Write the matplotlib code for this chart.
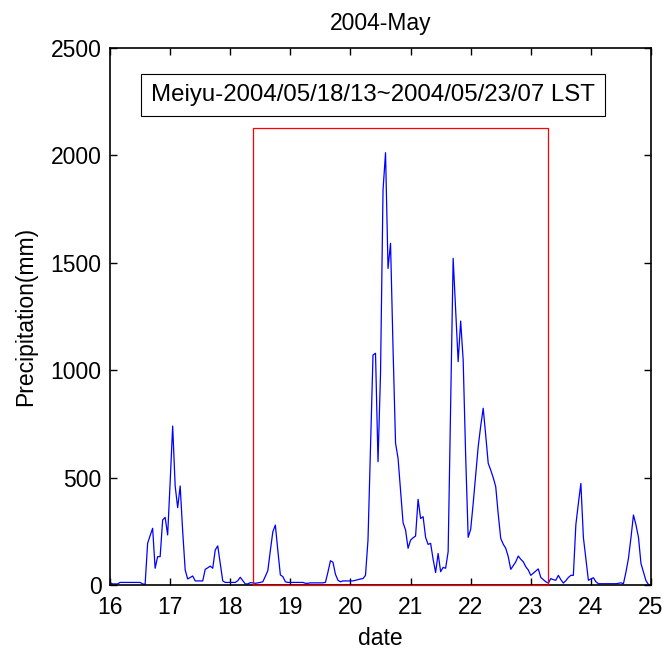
import numpy as np
import matplotlib
matplotlib.use("Agg")
import matplotlib.pyplot as plt
from matplotlib.patches import Rectangle

plt.rcParams['font.family'] = ['Liberation Sans', 'DejaVu Sans']

# hourly precipitation (mm), starting 2004/05/16 00 LST
start_day = 16
precip = [
    12, 5, 5, 5, 12, 12, 12, 12, 12, 12, 12, 12, 12, 5, 3, 194, 230, 264, 78, 132, 132, 303, 315, 233,        # 16
    480, 740, 461, 360, 461, 250, 70, 28, 35, 42, 19, 19, 19, 19, 73, 80, 88, 78, 163, 182, 100, 19, 12, 12,   # 17
    12, 12, 12, 20, 36, 20, 5, 5, 11, 10, 8, 10, 12, 15, 40, 67, 160, 248, 279, 160, 47, 39, 15, 12,           # 18
    12, 12, 12, 12, 12, 12, 8, 8, 10, 10, 10, 10, 10, 10, 12, 60, 113, 106, 50, 22, 15, 19, 19, 19,            # 19
    19, 19, 22, 25, 28, 30, 45, 210, 640, 1071, 1079, 574, 986, 1839, 2013, 1474, 1591, 1100, 660, 590, 440, 290, 256, 171,  # 20
    209, 220, 228, 399, 310, 318, 222, 189, 194, 120, 58, 147, 62, 82, 78, 155, 840, 1521, 1280, 1040, 1229, 1047, 600, 222, # 21
    259, 380, 510, 644, 740, 823, 698, 567, 535, 500, 458, 330, 217, 190, 171, 132, 73, 90, 108, 135, 120, 108, 85, 70,     # 22
    45, 55, 65, 75, 35, 25, 15, 9, 30, 25, 22, 45, 25, 9, 20, 35, 45, 45, 281, 380, 473, 222, 120, 22,          # 23
    28, 34, 15, 6, 6, 6, 6, 6, 6, 6, 6, 8, 10, 6, 60, 124, 220, 326, 280, 222, 100, 60, 20, 2,                 # 24
    2,                                                                                                         # 25
]

# Meiyu period box (days) and its height
meiyu_start = 18.375
meiyu_end = 23.29
meiyu_top = 2130
meiyu_label = 'Meiyu-2004/05/18/13~2004/05/23/07 LST'

days = start_day + np.arange(len(precip)) / 24.0

fig = plt.figure(figsize=(6.67, 6.5), dpi=100)
ax = fig.add_axes([0.165, 0.1, 0.811, 0.826])

ax.plot(days, precip, color='#0000ff', linewidth=0.9)

rect = Rectangle((meiyu_start, 0), meiyu_end - meiyu_start, meiyu_top,
                 fill=False, edgecolor='red', linewidth=0.9, zorder=3, clip_on=False)
ax.add_patch(rect)

ax.set_xlim(16, 25)
ax.set_ylim(0, 2500)
ax.set_xticks(range(16, 26))
ax.set_yticks(range(0, 2501, 500))
ax.tick_params(direction='in', top=True, right=True, labelsize=16.5, length=5, width=1)
ax.tick_params(axis='x', pad=8)
ax.tick_params(axis='y', pad=6)
for s in ax.spines.values():
    s.set_linewidth(1.2)

ax.set_xlabel('date', fontsize=16.5, labelpad=6)
ax.set_ylabel('Precipitation(mm)', fontsize=16.5, labelpad=10)
ax.set_title('2004-May', fontsize=16.5, pad=13)

ax.text(0.486, 0.913, meiyu_label, transform=ax.transAxes, fontsize=17.3,
        ha='center', va='center',
        bbox=dict(boxstyle='square,pad=0.42', facecolor='white', edgecolor='black', linewidth=0.8))

fig.savefig('out.png', dpi=100)
